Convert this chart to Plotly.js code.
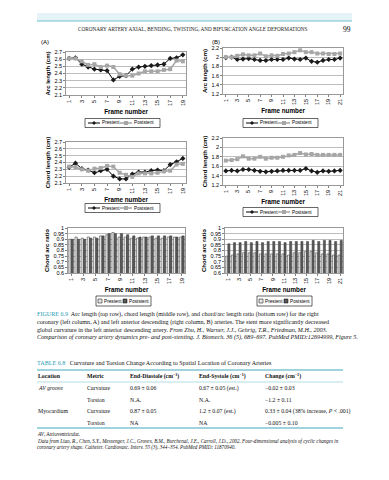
<!DOCTYPE html>
<html><head><meta charset="utf-8">
<script src="https://cdn.plot.ly/plotly-3.0.1.min.js"></script>
<style>html,body{margin:0;padding:0;background:#fff}#g{width:389px;height:480px}</style>
</head><body><div id="g"></div>
<script>
// ---- data ----
var framesRCA = [1,2,3,4,5,6,7,8,9,10,11,12,13,14,15,16,17,18,19];
var framesLAD = [1,2,3,4,5,6,7,8,9,10,11,12,13,14,15,16,17,18,19,20,21];
var tickRCA = [1,3,5,7,9,11,13,15,17,19];
var tickLAD = [1,3,5,7,9,11,13,15,17,19,21];

var arcRCA_pre  = [2.61,2.62,2.53,2.49,2.46,2.45,2.44,2.31,2.36,2.37,2.46,2.49,2.50,2.51,2.52,2.53,2.61,2.62,2.66];
var arcRCA_post = [2.61,2.61,2.57,2.52,2.53,2.49,2.51,2.49,2.39,2.37,2.37,2.40,2.43,2.43,2.43,2.45,2.46,2.58,2.57];
var arcLAD_pre  = [1.99,2.00,1.95,1.96,1.97,1.95,1.93,1.93,1.95,1.95,1.95,1.98,1.96,1.95,1.98,1.91,1.89,1.93,1.95,1.95,1.98];
var arcLAD_post = [2.00,2.00,2.03,2.06,2.04,2.04,2.08,2.02,2.04,2.03,2.07,2.08,2.11,2.15,2.11,2.11,2.08,2.08,2.07,2.07,2.08];
var chordRCA_pre  = [2.33,2.39,2.31,2.29,2.25,2.28,2.30,2.20,2.16,2.16,2.23,2.26,2.26,2.28,2.29,2.28,2.37,2.41,2.46];
var chordRCA_post = [2.34,2.33,2.30,2.28,2.31,2.32,2.35,2.34,2.25,2.22,2.19,2.24,2.24,2.24,2.25,2.27,2.28,2.37,2.38];
var chordLAD_pre  = [1.50,1.51,1.50,1.53,1.53,1.51,1.49,1.48,1.49,1.50,1.51,1.51,1.51,1.51,1.55,1.50,1.47,1.50,1.49,1.50,1.51];
var chordLAD_post = [1.72,1.73,1.75,1.81,1.76,1.76,1.80,1.76,1.78,1.78,1.80,1.83,1.84,1.88,1.85,1.86,1.84,1.84,1.84,1.84,1.84];
var ratioRCA_pre  = [0.90,0.92,0.91,0.92,0.92,0.93,0.94,0.96,0.92,0.92,0.91,0.91,0.92,0.92,0.91,0.91,0.92,0.92,0.92];
var ratioRCA_post = [0.90,0.90,0.90,0.91,0.91,0.93,0.95,0.95,0.95,0.94,0.93,0.92,0.92,0.93,0.93,0.93,0.93,0.92,0.93];
var ratioLAD_pre  = [0.75,0.76,0.77,0.78,0.78,0.78,0.77,0.77,0.77,0.77,0.77,0.76,0.78,0.78,0.79,0.79,0.78,0.77,0.77,0.76,0.76];
var ratioLAD_post = [0.86,0.87,0.87,0.88,0.87,0.88,0.87,0.88,0.88,0.88,0.87,0.88,0.88,0.88,0.88,0.89,0.88,0.89,0.89,0.88,0.89];

var seriesNames = ["Prestent","Poststent"];

var headerText = "CORONARY ARTERY AXIAL, BENDING, TWISTING, AND BIFURCATION ANGLE DEFORMATIONS";
var pageNumber = "99";
var captionLines = [
 "<span style='color:#1f9bb5'>FIGURE 6.9</span>  Arc length (top row), chord length (middle row), and chord/arc length ratio (bottom row) for the right",
 "coronary (left column, A) and left anterior descending (right column, B) arteries. The stent more significantly decreased",
 "global curvature in the left anterior descending artery. <i>From Zhu, H., Warner, J.J., Gehrig, T.R., Friedman, M.H., 2003.</i>",
 "<i>Comparison of coronary artery dynamics pre- and post-stenting. J. Biomech. 36 (5), 689–697. PubMed PMID:12694999, Figure 5.</i>"
];
var tableTitle = "<span style='color:#1f9bb5'>TABLE 6.8</span>   Curvature and Torsion Change According to Spatial Location of Coronary Arteries";
var tableHeader = ["Location","Metric","End-Diastole (cm<sup>−1</sup>)","End-Systole (cm<sup>−1</sup>)","Change (cm<sup>−1</sup>)"];
var tableRows = [
 ["<i>AV groove</i>","Curvature","0.69 ± 0.06","0.67 ± 0.05 (est.)","−0.02 ± 0.03"],
 ["","Torsion","N.A.","N.A.","−1.2 ± 0.11"],
 ["Myocardium","Curvature","0.87 ± 0.05","1.2 ± 0.07 (est.)","0.33 ± 0.04 (38% increase, <i>P</i> < .001)"],
 ["","Torsion","NA","NA","−0.005 ± 0.10"]
];
var footLines = [
 "<i>AV</i>, Atrioventricular.",
 "<i>Data from Liao, R., Chen, S.Y., Messenger, J.C., Groves, B.M., Burchenal, J.E., Carroll, J.D., 2002. Four-dimensional analysis of cyclic changes in</i>",
 "<i>coronary artery shape. Catheter. Cardiovasc. Interv. 55 (3), 344–354. PubMed PMID: 11870940.</i>"
];

// ---- layout helpers ----
var W = 389, H = 480;
function px(x){return x/W;}
function py(y){return 1 - y/H;}
var SANS = "Liberation Sans, Arial, sans-serif";
var SERIF = "Liberation Serif, Times New Roman, serif";
var PRE_C = '#1a1a1a', POST_C = '#a6a6a6';
var BAR_PRE = '#e6e6e6', BAR_POST = '#5a5a5a';

var preLine = {color:'#000000', width:1};
var preMarker = {symbol:'diamond', size:4, color:PRE_C};
var postLine = {color:POST_C, width:1.5};
var postMarker = {symbol:'square', size:4, color:POST_C};

var traces = [];
function lineChart(n, x, pre, post){
  traces.push({type:'scatter', mode:'lines+markers', x:x, y:pre, name:seriesNames[0], line:preLine, marker:preMarker, xaxis:'x'+n, yaxis:'y'+n});
  traces.push({type:'scatter', mode:'lines+markers', x:x, y:post, name:seriesNames[1], line:postLine, marker:postMarker, xaxis:'x'+n, yaxis:'y'+n});
}
function barChart(n, x, pre, post){
  traces.push({type:'bar', x:x, y:pre, name:seriesNames[0], marker:{color:BAR_PRE, line:{color:'#333', width:0.5}}, xaxis:'x'+n, yaxis:'y'+n});
  traces.push({type:'bar', x:x, y:post, name:seriesNames[1], marker:{color:BAR_POST, line:{color:'#333', width:0.5}}, xaxis:'x'+n, yaxis:'y'+n});
}
lineChart('', framesRCA, arcRCA_pre, arcRCA_post);
lineChart('2', framesLAD, arcLAD_pre, arcLAD_post);
lineChart('3', framesRCA, chordRCA_pre, chordRCA_post);
lineChart('4', framesLAD, chordLAD_pre, chordLAD_post);
barChart('5', framesRCA, ratioRCA_pre, ratioRCA_post);
barChart('6', framesLAD, ratioLAD_pre, ratioLAD_post);

function xax(dom, anchor, ticks, n){
  return {domain:dom, anchor:anchor, range:[0.5, n+0.5], tickvals:ticks, ticktext:ticks.map(String), tickangle:-90,
    tickfont:{family:SANS,size:5.5,color:'#000'}, showgrid:false, zeroline:false, showline:true, linecolor:'#808080', linewidth:0.8, mirror:true,
    ticks:'outside', ticklen:2, tickcolor:'#808080',
    title:{text:'<b>Frame number</b>', font:{family:SANS,size:6.3,color:'#000'}, standoff:4}};
}
function yax(dom, anchor, rng, dt, title, fmt){
  return {domain:dom, anchor:anchor, range:rng, dtick:dt, tick0:rng[0], tickformat:fmt,
    tickfont:{family:SANS,size:5.5,color:'#000'}, showgrid:true, gridcolor:'#bdbdbd', gridwidth:1, zeroline:false,
    showline:true, linecolor:'#808080', linewidth:0.8, mirror:true, ticks:'outside', ticklen:2, tickcolor:'#808080',
    title:{text:'<b>'+title+'</b>', font:{family:SANS,size:6,color:'#000'}, standoff:3}};
}

var xL = [px(66), px(186)], xR = [px(223), px(343)];
var layout = {
  width:W, height:H, margin:{l:0,r:0,t:0,b:0}, paper_bgcolor:'#fff', plot_bgcolor:'#fff',
  showlegend:false, barmode:'group', bargap:0.25, bargroupgap:0,
  xaxis: xax(xL,'y',tickRCA,19), yaxis: yax([py(95),py(52)],'x',[2.1,2.7],0.1,'Arc length (cm)','.1f'),
  xaxis2: xax(xR,'y2',tickLAD,21), yaxis2: yax([py(94),py(48)],'x2',[1.2,2.2],0.2,'Arc length (cm)','.1~f'),
  xaxis3: xax(xL,'y3',tickRCA,19), yaxis3: yax([py(183),py(142)],'x3',[2.1,2.7],0.1,'Chord length (cm)','.1f'),
  xaxis4: xax(xR,'y4',tickLAD,21), yaxis4: yax([py(185),py(138)],'x4',[1.2,2.2],0.2,'Chord length (cm)','.1~f'),
  xaxis5: xax([px(68),px(185)],'y5',tickRCA,19), yaxis5: yax([py(273),py(228)],'x5',[0.6,1.0],0.05,'Chord arc ratio','.2~f'),
  xaxis6: xax([px(225),px(343)],'y6',tickLAD,21), yaxis6: yax([py(273),py(228)],'x6',[0.6,1.0],0.05,'Chord arc ratio','.2~f'),
  shapes: [], annotations: []
};

function paperShape(o){ o.xref='paper'; o.yref='paper'; layout.shapes.push(o); }
function txt(x, y, t, font, anchor){
  layout.annotations.push({xref:'paper', yref:'paper', x:px(x), y:py(y), text:t, showarrow:false, xanchor:anchor||'left', yanchor:'middle', font:font, borderpad:0});
}

var KEYF = {family:SANS, size:4.7, color:'#000'};
// legend drawn as a key box (line charts)
function lineKey(x0, y){
  paperShape({type:'rect', x0:px(x0), x1:px(x0+75), y0:py(y+4.5), y1:py(y-4.5), line:{color:'#000', width:0.6}, fillcolor:'#fff'});
  paperShape({type:'line', x0:px(x0+3), x1:px(x0+15), y0:py(y), y1:py(y), line:{color:'#000', width:1}});
  paperShape({type:'path', path:'M '+px(x0+9)+' '+py(y-2)+' L '+px(x0+11)+' '+py(y)+' L '+px(x0+9)+' '+py(y+2)+' L '+px(x0+7)+' '+py(y)+' Z', fillcolor:PRE_C, line:{width:0}});
  txt(x0+16, y, seriesNames[0], KEYF);
  paperShape({type:'line', x0:px(x0+35), x1:px(x0+47), y0:py(y), y1:py(y), line:{color:POST_C, width:1.5}});
  paperShape({type:'rect', x0:px(x0+39), x1:px(x0+43), y0:py(y+2), y1:py(y-2), fillcolor:POST_C, line:{width:0}});
  txt(x0+48, y, seriesNames[1], KEYF);
}
function barKey(x0, y){
  paperShape({type:'rect', x0:px(x0), x1:px(x0+55), y0:py(y+5), y1:py(y-5), line:{color:'#000', width:0.6}, fillcolor:'#fff'});
  paperShape({type:'rect', x0:px(x0+2), x1:px(x0+6), y0:py(y+2), y1:py(y-2), fillcolor:BAR_PRE, line:{color:'#000', width:0.5}});
  txt(x0+6.5, y, seriesNames[0], KEYF);
  paperShape({type:'rect', x0:px(x0+27), x1:px(x0+31), y0:py(y+2), y1:py(y-2), fillcolor:BAR_POST, line:{color:'#000', width:0.5}});
  txt(x0+31.5, y, seriesNames[1], KEYF);
}
lineKey(85, 123);
lineKey(243, 123);
lineKey(85, 208);
lineKey(243, 212);
barKey(96, 301);
barKey(257, 301);

// page decorations
paperShape({type:'rect', x0:px(37), x1:px(352), y0:py(21), y1:py(13), fillcolor:'#e3f3f6', line:{width:0}});
paperShape({type:'line', x0:px(37), x1:px(352), y0:py(21), y1:py(21), line:{color:'#6fc0cf', width:1}});
txt(192, 29, headerText, {family:SERIF, size:5.2, color:'#222'}, 'center');
txt(352, 29, pageNumber, {family:SERIF, size:7.5, color:'#000'}, 'right');
txt(40, 42, '(A)', {family:SANS, size:6, color:'#000'});
txt(211, 42, '(B)', {family:SANS, size:6, color:'#000'});

var capY = [314, 322, 330, 337];
captionLines.forEach(function(t,i){ txt(36, capY[i], t, {family:SERIF, size:6.1, color:'#111'}); });
txt(36, 363, tableTitle, {family:SERIF, size:6.1, color:'#111'});
paperShape({type:'line', x0:px(37), x1:px(343), y0:py(370), y1:py(370), line:{color:'#7fc6d3', width:1.5}});
paperShape({type:'line', x0:px(37), x1:px(343), y0:py(382), y1:py(382), line:{color:'#7fc6d3', width:0.6}});
paperShape({type:'line', x0:px(37), x1:px(343), y0:py(428), y1:py(428), line:{color:'#7fc6d3', width:1.5}});
var colX = [37, 86, 129, 198, 264];
tableHeader.forEach(function(t,j){ txt(colX[j], 376, '<b>'+t+'</b>', {family:SERIF, size:5.8, color:'#111'}); });
var rowY = [388, 400, 411, 423];
tableRows.forEach(function(r,i){
  r.forEach(function(t,j){ if(t) txt(colX[j], rowY[i], t, {family:SERIF, size:5.8, color:'#111'}); });
});
var footY = [434, 441, 447];
footLines.forEach(function(t,i){ txt(36, footY[i], t, {family:SERIF, size:5.1, color:'#111'}); });

Plotly.newPlot('g', traces, layout, {displayModeBar:false, staticPlot:true});
</script></body></html>
